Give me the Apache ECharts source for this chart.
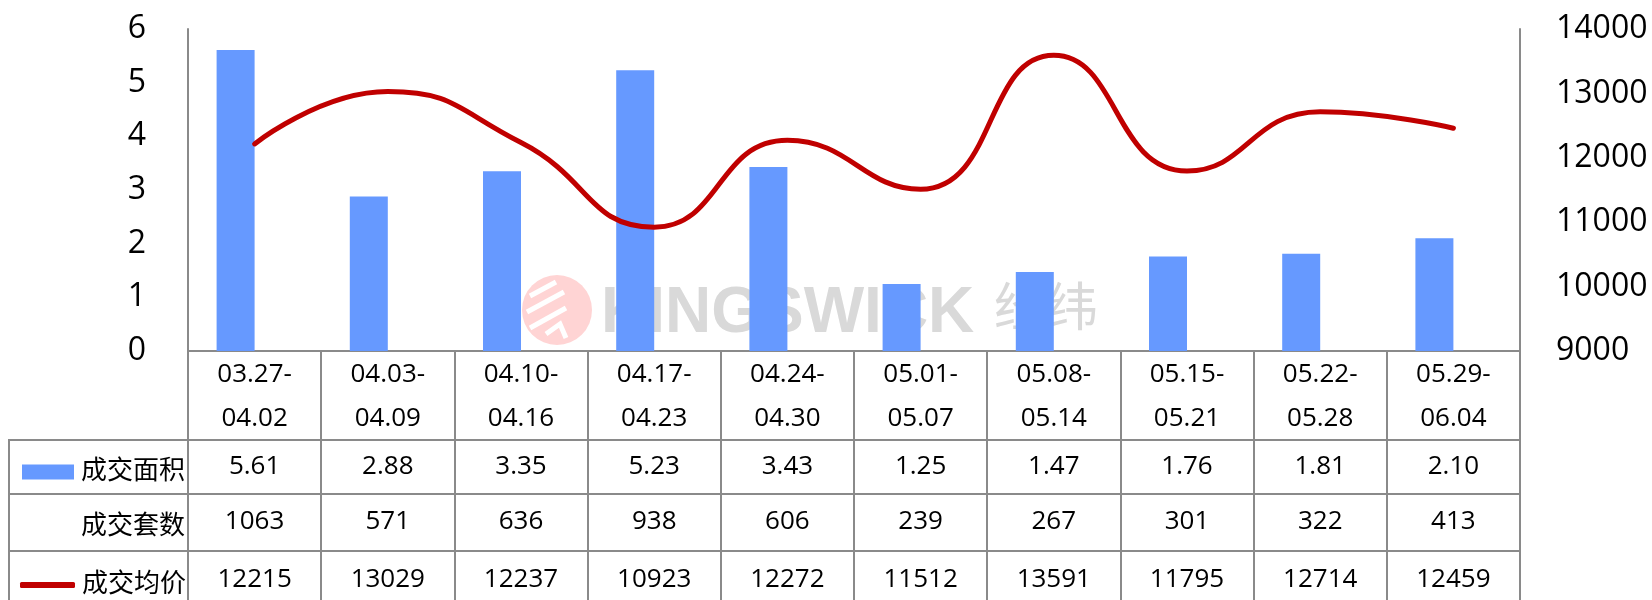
<!DOCTYPE html>
<html>
<head>
<meta charset="utf-8">
<script src="https://cdn.jsdelivr.net/npm/echarts@6/dist/echarts.min.js"></script>
<style>
    html, body { margin: 0; padding: 0; background: #fff; }
    #main { width: 1652px; height: 600px; }
</style>
</head>
<body>
<div id="main"></div>
<script>
var categories = ['03.27-\n04.02', '04.03-\n04.09', '04.10-\n04.16', '04.17-\n04.23', '04.24-\n04.30',
    '05.01-\n05.07', '05.08-\n05.14', '05.15-\n05.21', '05.22-\n05.28', '05.29-\n06.04'];
var areaData = [5.61, 2.88, 3.35, 5.23, 3.43, 1.25, 1.47, 1.76, 1.81, 2.10];
var countData = [1063, 571, 636, 938, 606, 239, 267, 301, 322, 413];
var priceData = [12215, 13029, 12237, 10923, 12272, 11512, 13591, 11795, 12714, 12459];

var fontFamily = "'Open Sans', 'Noto Sans CJK SC', sans-serif";
var gridColor = '#8a8a8a';
var barColor = '#6699ff';
var lineColor = '#c00000';

// one extra x axis per table row, stacked under the category row
function tableAxis(values, offset, tickLen, margin) {
    return {
        type: 'category',
        gridIndex: 0,
        position: 'bottom',
        offset: offset,
        data: values,
        axisLine: { show: true, lineStyle: { color: gridColor, width: 2 } },
        axisTick: { show: true, interval: 0, length: tickLen, lineStyle: { color: gridColor, width: 2 } },
        axisLabel: {
            interval: 0,
            margin: margin,
            fontSize: 26,
            lineHeight: 26,
            color: '#000',
            fontFamily: fontFamily
        }
    };
}

// each table row gets its own legend so rows can be placed exactly
function rowLegend(item, top, left, w, h) {
    return {
        orient: 'vertical',
        left: left,
        top: top,
        itemWidth: w,
        itemHeight: h,
        itemGap: 0,
        selectedMode: false,
        textStyle: { fontSize: 26, lineHeight: 30, color: '#000', fontFamily: fontFamily, padding: [0, 0, 0, 2] },
        data: [item]
    };
}

var chart = echarts.init(document.getElementById('main'));

chart.setOption({
    animation: false,
    grid: { left: 188, right: 132, top: 29, bottom: 249 },
    legend: [
        rowLegend({ name: '成交面积', icon: 'rect' }, 452, 17, 52, 15),
        rowLegend({ name: '成交套数', icon: 'rect', itemStyle: { color: 'rgba(0,0,0,0)', opacity: 0 } }, 507, 17, 52, 15),
        rowLegend({ name: '成交均价', icon: 'roundRect', itemStyle: { color: lineColor } }, 565, 15, 55, 6)
    ],
    graphic: [
        // watermark (under the bars)
        { type: 'circle', z: 0, shape: { cx: 557, cy: 310, r: 35 }, style: { fill: '#ffd4d4' } },
        { type: 'polyline', z: 0, shape: { points: [[530, 296], [556, 282]] }, style: { stroke: '#fff', lineWidth: 5 } },
        { type: 'polyline', z: 0, shape: { points: [[527, 312], [564, 292]] }, style: { stroke: '#fff', lineWidth: 5 } },
        { type: 'polyline', z: 0, shape: { points: [[530, 328], [566, 308]] }, style: { stroke: '#fff', lineWidth: 5 } },
        { type: 'polyline', z: 0, shape: { points: [[546, 334], [560, 324], [566, 338]] }, style: { stroke: '#fff', lineWidth: 5, fill: null } },
        { type: 'text', z: 0, left: 601, top: 282, style: { text: 'KINGSWICK', fill: '#d9d9d9', font: 'bold 64px "Liberation Sans"' } },
        { type: 'text', z: 0, left: 994, top: 280, style: { text: '经纬', fill: '#d9d9d9', font: '52px "Noto Sans CJK SC"' } },
        // left column of the data table
        { type: 'line', z: 5, shape: { x1: 9, y1: 440, x2: 188, y2: 440 }, style: { stroke: gridColor, lineWidth: 2 } },
        { type: 'line', z: 5, shape: { x1: 9, y1: 494, x2: 188, y2: 494 }, style: { stroke: gridColor, lineWidth: 2 } },
        { type: 'line', z: 5, shape: { x1: 9, y1: 551, x2: 188, y2: 551 }, style: { stroke: gridColor, lineWidth: 2 } },
        { type: 'line', z: 5, shape: { x1: 9, y1: 439, x2: 9, y2: 600 }, style: { stroke: gridColor, lineWidth: 2 } }
    ],
    xAxis: [
        {
            type: 'category',
            gridIndex: 0,
            position: 'bottom',
            data: categories,
            axisLine: { show: true, lineStyle: { color: gridColor, width: 2 } },
            axisTick: { show: true, interval: 0, length: 89, lineStyle: { color: gridColor, width: 2 } },
            axisLabel: {
                interval: 0,
                margin: 2,
                fontSize: 26,
                lineHeight: 44,
                color: '#000',
                fontFamily: fontFamily
            }
        },
        tableAxis(areaData.map(function (v) { return v.toFixed(2); }), 89, 54, 14),
        tableAxis(countData.map(String), 143, 57, 15),
        tableAxis(priceData.map(String), 200, 60, 16)
    ],
    yAxis: [
        {
            type: 'value',
            min: 0,
            max: 6,
            interval: 1,
            splitLine: { show: false },
            axisTick: { show: false },
            axisLine: { show: true, lineStyle: { color: gridColor, width: 2 } },
            axisLabel: { margin: 42, fontSize: 32, color: '#000', fontFamily: fontFamily }
        },
        {
            type: 'value',
            min: 9000,
            max: 14000,
            interval: 1000,
            position: 'right',
            splitLine: { show: false },
            axisTick: { show: false },
            axisLine: { show: true, lineStyle: { color: gridColor, width: 2 } },
            axisLabel: {
                margin: 36, fontSize: 32, color: '#000', fontFamily: fontFamily,
                formatter: function (v) { return String(v); }
            }
        }
    ],
    series: [
        {
            name: '成交面积',
            type: 'bar',
            xAxisIndex: 0,
            yAxisIndex: 0,
            barWidth: 38,
            barGap: '0%',
            itemStyle: { color: barColor },
            data: areaData
        },
        {
            // Excel keeps a slot for the unfilled 套数 series next to each bar
            name: '成交套数',
            type: 'bar',
            xAxisIndex: 0,
            yAxisIndex: 0,
            barWidth: 38,
            barGap: '0%',
            itemStyle: { color: 'rgba(0,0,0,0)' },
            data: countData
        },
        {
            name: '成交均价',
            type: 'line',
            xAxisIndex: 0,
            yAxisIndex: 1,
            smooth: 0.5,
            symbol: 'none',
            z: 4,
            lineStyle: { color: lineColor, width: 5, cap: 'round' },
            itemStyle: { color: lineColor },
            data: priceData
        }
    ]
});
</script>
</body>
</html>
